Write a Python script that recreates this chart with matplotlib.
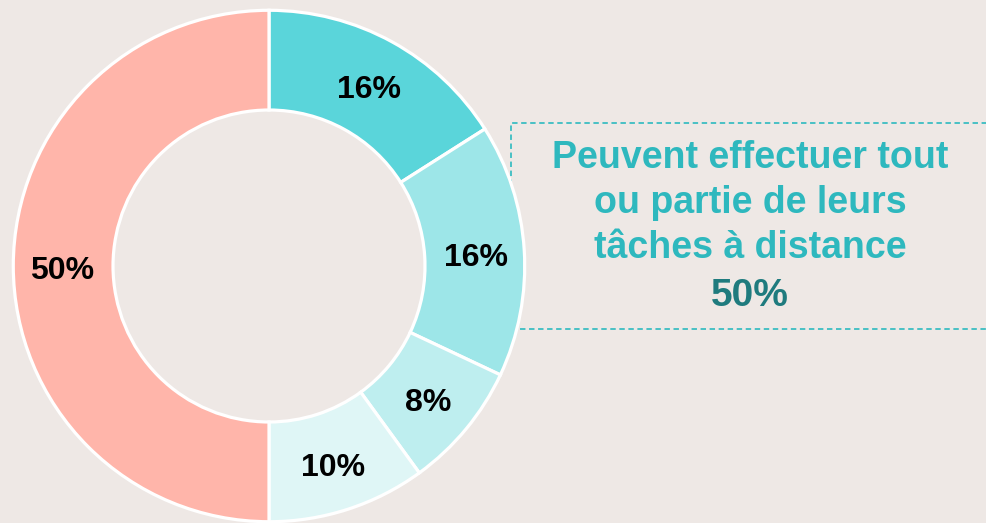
import matplotlib
matplotlib.use("Agg")
import matplotlib.pyplot as plt
from matplotlib.patches import Rectangle
import numpy as np

# parts de la population (dans le sens horaire, depuis le haut)
parts = [16, 16, 8, 10, 50]
labels = ["16%", "16%", "8%", "10%", "50%"]
couleurs = ["#5AD5DA", "#9DE6E8", "#BEEEEF", "#DFF6F6", "#FFB5AA"]

texte_box = ["Peuvent effectuer tout", "ou partie de leurs", "tâches à distance"]
total_box = "50%"

W, H = 986, 523
fond = "#EEE8E5"

plt.rcParams['font.family'] = ['Liberation Sans', 'DejaVu Sans']

fig = plt.figure(figsize=(W / 100, H / 100), dpi=100, facecolor=fond)

# donut centré à (269, 266) px, rayon 256 px
cx, cy, r = 269, 266, 257
ax = fig.add_axes([(cx - r) / W, (H - cy - r) / H, 2 * r / W, 2 * r / H])
ax.set_facecolor(fond)
wedges, txts = ax.pie(parts, colors=couleurs, startangle=90, counterclock=False,
                      radius=1.0,
                      wedgeprops=dict(width=0.39, edgecolor="white", linewidth=2.3))
for w, lab in zip(wedges, labels):
    ang = np.deg2rad((w.theta1 + w.theta2) / 2)
    ax.text(0.81 * np.cos(ang), 0.81 * np.sin(ang) - 0.02, lab, ha="center", va="center",
            fontsize=23, fontweight="bold", color="black")
ax.set_xlim(-1.005, 1.005)
ax.set_ylim(-1.005, 1.005)
ax.set_aspect("equal")
ax.axis("off")

# cadre pointillé à droite (derrière le donut)
cadre = Rectangle((511 / W, 1 - 329 / H), (W + 20 - 511) / W, (329 - 123) / H,
                  transform=fig.transFigure, fill=False, edgecolor="#3BBDC2",
                  linewidth=1.3, linestyle=(0, (3, 2)), clip_on=False, zorder=-1)
fig.add_artist(cadre)

lignes_y = [168, 213, 258]
for t, y in zip(texte_box, lignes_y):
    fig.text(750 / W, 1 - y / H, t, ha="center", va="baseline",
             fontsize=27, fontweight="bold", color="#2EB8BE")
fig.text(750 / W, 1 - 306 / H, total_box, ha="center", va="baseline",
         fontsize=28, fontweight="bold", color="#1F7B7E")

fig.savefig("out.png", dpi=100, facecolor=fond)
